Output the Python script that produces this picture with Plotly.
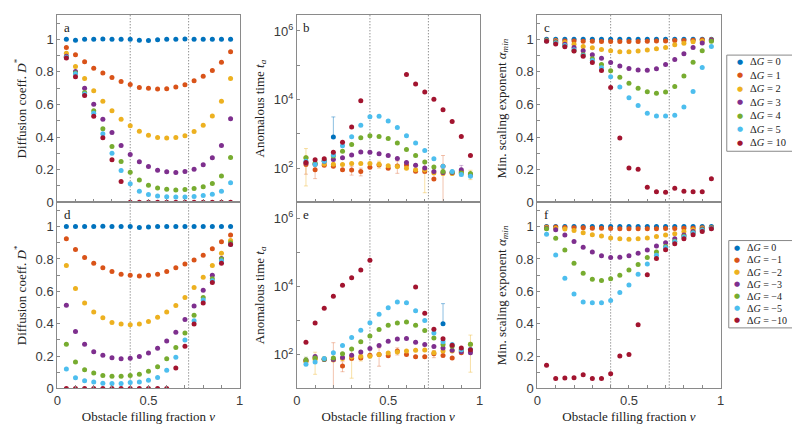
import plotly.graph_objects as go

# ---------------- data ----------------
nu = [0.05, 0.10, 0.15, 0.20, 0.25, 0.30, 0.35, 0.40, 0.45, 0.50,
      0.55, 0.60, 0.65, 0.70, 0.75, 0.80, 0.85, 0.90, 0.95]

# panel a: D* for positive dG
Da_0 = [1.0, 0.995, 1.0, 1.0, 1.002, 1.0, 1.0, 1.0, 0.995, 0.993, 0.997, 1.0, 1.0, 1.002, 1.0, 1.0, 1.0, 1.0, 1.0]
Da_1 = [0.950, 0.906, 0.863, 0.823, 0.793, 0.765, 0.741, 0.723, 0.705, 0.699, 0.695, 0.697, 0.707, 0.721, 0.745, 0.773, 0.809, 0.859, 0.924]
Da_2 = [0.914, 0.833, 0.759, 0.685, 0.620, 0.562, 0.510, 0.470, 0.436, 0.412, 0.398, 0.394, 0.398, 0.408, 0.434, 0.472, 0.530, 0.620, 0.759]
Da_3 = [0.896, 0.803, 0.699, 0.602, 0.510, 0.428, 0.349, 0.293, 0.249, 0.219, 0.197, 0.187, 0.183, 0.189, 0.203, 0.231, 0.273, 0.349, 0.512]
Da_4 = [0.890, 0.793, 0.673, 0.562, 0.452, 0.343, 0.251, 0.185, 0.137, 0.104, 0.088, 0.080, 0.076, 0.078, 0.084, 0.096, 0.116, 0.161, 0.275]
Da_5 = [0.890, 0.789, 0.665, 0.546, 0.420, 0.301, 0.195, 0.114, 0.068, 0.048, 0.038, 0.034, 0.032, 0.032, 0.036, 0.042, 0.050, 0.068, 0.120]
Da_10 = [0.886, 0.771, 0.655, 0.528, 0.396, 0.261, 0.128, 0.0, 0.0, 0.0, 0.0, 0.0, 0.0, 0.0, 0.0, 0.0, 0.0, 0.0, 0.0]

# panel d: D* for negative dG
Dd_0 = [1.0, 1.0, 1.0, 1.0, 1.002, 1.0, 1.0, 1.0, 0.995, 0.997, 1.0, 1.0, 1.0, 1.0, 1.0, 1.0, 1.0, 1.0, 1.0]
Dd_1 = [0.924, 0.859, 0.809, 0.773, 0.745, 0.723, 0.705, 0.699, 0.695, 0.699, 0.705, 0.723, 0.745, 0.769, 0.793, 0.823, 0.863, 0.906, 0.948]
Dd_2 = [0.759, 0.618, 0.528, 0.472, 0.436, 0.408, 0.398, 0.394, 0.398, 0.414, 0.440, 0.472, 0.512, 0.562, 0.624, 0.687, 0.759, 0.835, 0.914]
Dd_3 = [0.514, 0.351, 0.273, 0.227, 0.205, 0.189, 0.183, 0.187, 0.197, 0.219, 0.249, 0.293, 0.347, 0.426, 0.510, 0.606, 0.699, 0.803, 0.894]
Dd_4 = [0.273, 0.163, 0.116, 0.096, 0.080, 0.076, 0.076, 0.080, 0.088, 0.106, 0.134, 0.183, 0.253, 0.343, 0.452, 0.562, 0.677, 0.799, 0.900]
Dd_5 = [0.120, 0.066, 0.048, 0.040, 0.032, 0.030, 0.030, 0.036, 0.040, 0.050, 0.068, 0.112, 0.193, 0.300, 0.418, 0.546, 0.665, 0.789, 0.890]
Dd_10 = [0.0, 0.0, 0.0, 0.0, 0.0, 0.0, 0.0, 0.0, 0.0, 0.0, 0.0, 0.0, 0.127, 0.261, 0.398, 0.528, 0.655, 0.773, 0.890]

# panel b: anomalous time, positive dG (None = not defined)
tb_0 = [None, None, None, 800, None, None, None, None, None, None, None, None, None, None, None, None, None, None, None]
tb_1 = [126, 89, 120, 112, 89, 87, 79, 105, 123, 98, 115, 123, 81, 79, 48, 112, 72, 79, 63]
tb_2 = [200, 126, 132, 129, 126, 135, 135, 135, 129, 117, 110, 98, 89, 89, 72, 69, 69, 72, 66]
tb_3 = [141, 132, 158, 178, 200, 240, 295, 288, 263, 234, 191, 145, 120, 100, 79, 74, 74, 89, 63]
tb_4 = [200, 141, 166, 224, 309, 490, 759, 871, 832, 724, 537, 347, 234, 151, 107, 79, 76, 71, 69]
tb_5 = [158, 126, 158, 240, 447, 813, 1778, 3162, 3236, 2344, 1514, 871, 537, 324, 186, 112, 79, 65, 58]
tb_10 = [145, 174, 186, 288, 562, 1585, 9120, None, None, None, None, 53700, 28200, 16600, 10200, 5010, 2290, 832, 234]
eb_0 = [0, 0, 0, 2300, 0, 0, 0, 0, 0, 0, 0, 0, 0, 0, 0, 0, 0, 0, 0]
eb_1 = [60, 40, 0, 0, 0, 25, 20, 0, 0, 0, 45, 0, 0, 0, 0, 120, 0, 0, 0]
eb_2 = [170, 0, 0, 0, 0, 0, 0, 0, 30, 0, 0, 0, 0, 70, 0, 0, 0, 0, 20]
eb_3 = [0, 0, 0, 0, 0, 0, 0, 0, 0, 0, 0, 0, 0, 0, 0, 0, 0, 30, 0]

# panel e: anomalous time, negative dG
te_0 = [None, None, None, None, None, None, None, None, None, None, None, None, None, None, None, 800, None, None, None]
te_1 = [63, 79, 72, 71, 46, 76, 79, 95, 100, 91, 126, 100, 85, 85, 105, 93, 79, 112, 126]
te_2 = [63, 71, 76, 68, 76, 85, 89, 89, 100, 110, 117, 126, 132, 135, 112, 126, 126, 126, 200]
te_3 = [68, 87, 71, 71, 81, 95, 117, 148, 182, 245, 282, 295, 229, 195, 170, 155, 132, 120, 112]
te_4 = [68, 79, 72, 79, 105, 145, 234, 347, 537, 724, 832, 891, 724, 501, 302, 195, 174, 138, 200]
te_5 = [51, 60, 76, 112, 182, 316, 513, 851, 1514, 2344, 3467, 3311, 1905, 1000, 427, 234, 195, 138, 141]
te_10 = [229, 832, 2290, 5130, 10700, 17800, 30200, 58900, None, None, None, None, 9550, 1620, 550, 288, 186, 155, 138]
ee_0 = [0, 0, 0, 0, 0, 0, 0, 0, 0, 0, 0, 0, 0, 0, 0, 2300, 0, 0, 0]
ee_1 = [0, 0, 0, 150, 15, 0, 0, 0, 55, 0, 30, 0, 0, 0, 25, 0, 0, 0, 0]
ee_2 = [0, 45, 0, 0, 0, 65, 25, 0, 0, 0, 0, 0, 0, 0, 0, 0, 0, 0, 170]
ee_4 = [15, 0, 0, 0, 0, 0, 0, 0, 0, 0, 0, 0, 0, 0, 0, 0, 0, 0, 0]

# panel c: minimal scaling exponent, positive dG
Ac_0 = [1.0, 1.0, 1.0, 1.0, 1.0, 1.0, 1.0, 1.0, 1.0, 1.0, 1.0, 1.0, 1.0, 1.0, 1.0, 1.0, 1.0, 1.0, 1.0]
Ac_1 = [0.995, 0.992, 0.990, 0.990, 0.988, 0.988, 0.987, 0.987, 0.987, 0.987, 0.987, 0.988, 0.990, 0.990, 0.992, 0.993, 0.995, 0.997, 0.997]
Ac_2 = [0.995, 0.990, 0.980, 0.970, 0.956, 0.948, 0.938, 0.930, 0.924, 0.924, 0.928, 0.934, 0.942, 0.950, 0.966, 0.976, 0.985, 0.990, 0.995]
Ac_3 = [0.995, 0.985, 0.970, 0.950, 0.930, 0.906, 0.884, 0.857, 0.837, 0.821, 0.811, 0.810, 0.820, 0.845, 0.876, 0.912, 0.950, 0.978, 0.995]
Ac_4 = [0.993, 0.980, 0.960, 0.930, 0.905, 0.880, 0.845, 0.807, 0.767, 0.731, 0.700, 0.679, 0.669, 0.677, 0.711, 0.775, 0.859, 0.930, 0.988]
Ac_5 = [0.990, 0.978, 0.962, 0.936, 0.900, 0.870, 0.826, 0.771, 0.707, 0.641, 0.594, 0.546, 0.530, 0.530, 0.534, 0.584, 0.680, 0.827, 0.956]
Ac_10 = [0.988, 0.972, 0.954, 0.928, 0.896, 0.857, 0.809, 0.705, 0.394, 0.211, 0.203, 0.092, 0.064, 0.062, 0.086, 0.068, 0.064, 0.064, 0.145]

# panel f: minimal scaling exponent, negative dG
Af_0 = [1.0, 1.0, 1.0, 1.0, 1.0, 1.0, 1.0, 1.0, 1.0, 1.0, 1.0, 1.0, 1.0, 1.0, 1.0, 1.0, 1.0, 1.0, 1.0]
Af_1 = [0.997, 0.997, 0.995, 0.993, 0.992, 0.990, 0.990, 0.988, 0.987, 0.987, 0.987, 0.987, 0.987, 0.988, 0.988, 0.990, 0.990, 0.992, 0.995]
Af_2 = [0.995, 0.990, 0.985, 0.976, 0.962, 0.950, 0.942, 0.930, 0.924, 0.922, 0.924, 0.930, 0.938, 0.948, 0.956, 0.970, 0.980, 0.990, 0.995]
Af_3 = [0.990, 0.980, 0.948, 0.908, 0.873, 0.843, 0.819, 0.809, 0.811, 0.819, 0.835, 0.855, 0.880, 0.900, 0.924, 0.948, 0.970, 0.985, 0.995]
Af_4 = [0.986, 0.928, 0.855, 0.773, 0.711, 0.675, 0.667, 0.677, 0.700, 0.731, 0.765, 0.809, 0.843, 0.877, 0.910, 0.940, 0.962, 0.980, 0.993]
Af_5 = [0.952, 0.825, 0.681, 0.584, 0.534, 0.530, 0.530, 0.544, 0.592, 0.639, 0.705, 0.769, 0.823, 0.870, 0.906, 0.936, 0.960, 0.978, 0.990]
Af_10 = [0.143, 0.062, 0.064, 0.066, 0.084, 0.062, 0.062, 0.090, 0.200, 0.209, 0.394, 0.703, 0.803, 0.857, 0.894, 0.924, 0.950, 0.970, 0.986]

labels_pos = ["0", "1", "2", "3", "4", "5", "10"]
labels_neg = ["0", "−1", "−2", "−3", "−4", "−5", "−10"]
colors = ["#0072BD", "#D95319", "#EDB120", "#7E2F8E", "#77AC30", "#4DBEEE", "#A2142F"]
err_colors = ["rgba(0,114,189,0.45)", "rgba(217,83,25,0.35)", "rgba(237,177,32,0.4)",
              "rgba(126,47,142,0.35)", "rgba(119,172,48,0.4)", "rgba(77,190,238,0.4)",
              "rgba(162,20,47,0.35)"]
vlines = [0.4, 0.72]

# ---------------- figure ----------------
SERIF = "Liberation Serif"
SANS = "Liberation Sans"
fig = go.Figure()

panels = [
    ("", [Da_0, Da_1, Da_2, Da_3, Da_4, Da_5, Da_10], None, labels_pos),
    ("2", [tb_0, tb_1, tb_2, tb_3, tb_4, tb_5, tb_10], [eb_0, eb_1, eb_2, eb_3, None, None, None], labels_pos),
    ("3", [Ac_0, Ac_1, Ac_2, Ac_3, Ac_4, Ac_5, Ac_10], None, labels_pos),
    ("4", [Dd_0, Dd_1, Dd_2, Dd_3, Dd_4, Dd_5, Dd_10], None, labels_neg),
    ("5", [te_0, te_1, te_2, te_3, te_4, te_5, te_10], [ee_0, ee_1, ee_2, None, ee_4, None, None], labels_neg),
    ("6", [Af_0, Af_1, Af_2, Af_3, Af_4, Af_5, Af_10], None, labels_neg),
]

for sfx, series, errs, labs in panels:
    for k, ys in enumerate(series):
        kw = {}
        if errs is not None and errs[k] is not None:
            minus = errs[k] if k != 0 else [0] * len(errs[k])
            kw["error_y"] = dict(type="data", array=errs[k], arrayminus=minus,
                                 color=err_colors[k], thickness=1, width=2)
        fig.add_trace(go.Scatter(
            x=nu, y=ys, mode="markers",
            marker=dict(size=5, color=colors[k]),
            name="ΔG = " + labs[k],
            xaxis="x" + sfx, yaxis="y" + sfx,
            showlegend=False,
            **kw,
        ))

# domains in paper coordinates (figure is 800x427, zero margins)
W, H = 800.0, 427.0
cols = [(45.7 / W, 230.0 / W), (287.7 / W, 472.3 / W), (530.7 / W, 715.7 / W)]
rows = [(1 - 198.0 / H, 1 - 7.0 / H), (1 - 387.7 / H, 1 - 198.0 / H)]

frame = "#8a8a8a"
tickfont = dict(family=SANS, size=13, color="#3a3a3a")
titlefont = dict(family=SERIF, size=13, color="#222222")

ytitles = ["Diffusion coeff. <i>D</i><sup>*</sup>",
           "Anomalous time <i>t<sub>a</sub></i>",
           "Min. scaling exponent <i>α<sub>min</sub></i>"]
letters = ["a", "b", "c", "d", "e", "f"]

layout = {}
for i in range(6):
    r, c = divmod(i, 3)
    sfx = "" if i == 0 else str(i + 1)
    xa = dict(domain=list(cols[c]), anchor="y" + sfx, range=[0, 1],
              showline=True, mirror=True, linecolor=frame, linewidth=1,
              ticks="inside", ticklen=3, tickcolor=frame,
              tickvals=[0, 0.5, 1], ticktext=["0", "0.5", "1"], tickfont=tickfont,
              minor=dict(tickvals=[0.1, 0.2, 0.3, 0.4, 0.6, 0.7, 0.8, 0.9],
                         ticks="inside", ticklen=3, tickcolor=frame),
              showgrid=False, zeroline=False, showticklabels=(r == 1))
    if r == 1:
        xa["title"] = dict(text="Obstacle filling fraction <i>ν</i>", font=titlefont, standoff=4)
    if c == 1:
        ya = dict(type="log", range=[1.0, 6.47],
                  tickvals=[100, 10000, 1000000],
                  ticktext=["10<sup>2</sup>", "10<sup>4</sup>", "10<sup>6</sup>"],
                  minor=dict(tickvals=[10, 1000, 100000], ticks="inside",
                             ticklen=3, tickcolor=frame))
    else:
        ya = dict(range=[0, 1.15], tickvals=[0, 0.2, 0.4, 0.6, 0.8, 1.0],
                  ticktext=["0", "0.2", "0.4", "0.6", "0.8", "1"],
                  minor=dict(tickvals=[0.1, 0.3, 0.5, 0.7, 0.9, 1.1], ticks="inside",
                             ticklen=3, tickcolor=frame))
    ya.update(domain=list(rows[r]), anchor="x" + sfx,
              showline=True, mirror=True, linecolor=frame, linewidth=1,
              ticks="inside", ticklen=3, tickcolor=frame, tickfont=tickfont,
              showgrid=False, zeroline=False,
              title=dict(text=ytitles[c], font=titlefont, standoff=6))
    layout["xaxis" + sfx] = xa
    layout["yaxis" + sfx] = ya

fig.update_layout(**layout)

shapes = []
annotations = []
for i in range(6):
    sfx = "" if i == 0 else str(i + 1)
    for v in vlines:
        shapes.append(dict(type="line", xref="x" + sfx, yref="y" + sfx + " domain",
                           x0=v, x1=v, y0=0, y1=1,
                           line=dict(color="#666666", width=1, dash="1px,2px"), layer="below"))
    annotations.append(dict(text=letters[i], xref="x" + sfx + " domain", yref="y" + sfx + " domain",
                            x=0.025, y=0.985, xanchor="left", yanchor="top", showarrow=False,
                            font=dict(family=SERIF, size=13, color="#222222")))

# legend boxes (bordered box with colored bullets and labels)
legends = [
    dict(box=(722, 48, 792, 146), first=55.0, step=13.7, mx=735.5, tx=743.0, size=10.5, labs=labels_pos),
    dict(box=(724, 237, 790, 326), first=244.5, step=12.3, mx=732.0, tx=740.0, size=10, labs=labels_neg),
]
for lg in legends:
    x0, y0, x1, y1 = lg["box"]
    shapes.append(dict(type="rect", xref="paper", yref="paper",
                       x0=x0 / W, x1=x1 / W, y0=1 - y1 / H, y1=1 - y0 / H,
                       line=dict(color="#888888", width=1), fillcolor="white", layer="above"))
    for k, lab in enumerate(lg["labs"]):
        yy = 1 - (lg["first"] + k * lg["step"]) / H
        annotations.append(dict(text="●", xref="paper", yref="paper", x=lg["mx"] / W, y=yy,
                                xanchor="center", yanchor="middle", showarrow=False,
                                font=dict(family="DejaVu Sans", size=7, color=colors[k])))
        annotations.append(dict(text="Δ<i>G</i> = " + lab, xref="paper", yref="paper",
                                x=lg["tx"] / W, y=yy, xanchor="left", yanchor="middle",
                                showarrow=False,
                                font=dict(family=SERIF, size=lg["size"], color="#222222")))

fig.update_layout(
    width=800, height=427,
    margin=dict(l=0, r=0, t=0, b=0),
    paper_bgcolor="white", plot_bgcolor="white",
    shapes=shapes, annotations=annotations,
    showlegend=False,
)

fig.write_html("out.html")
